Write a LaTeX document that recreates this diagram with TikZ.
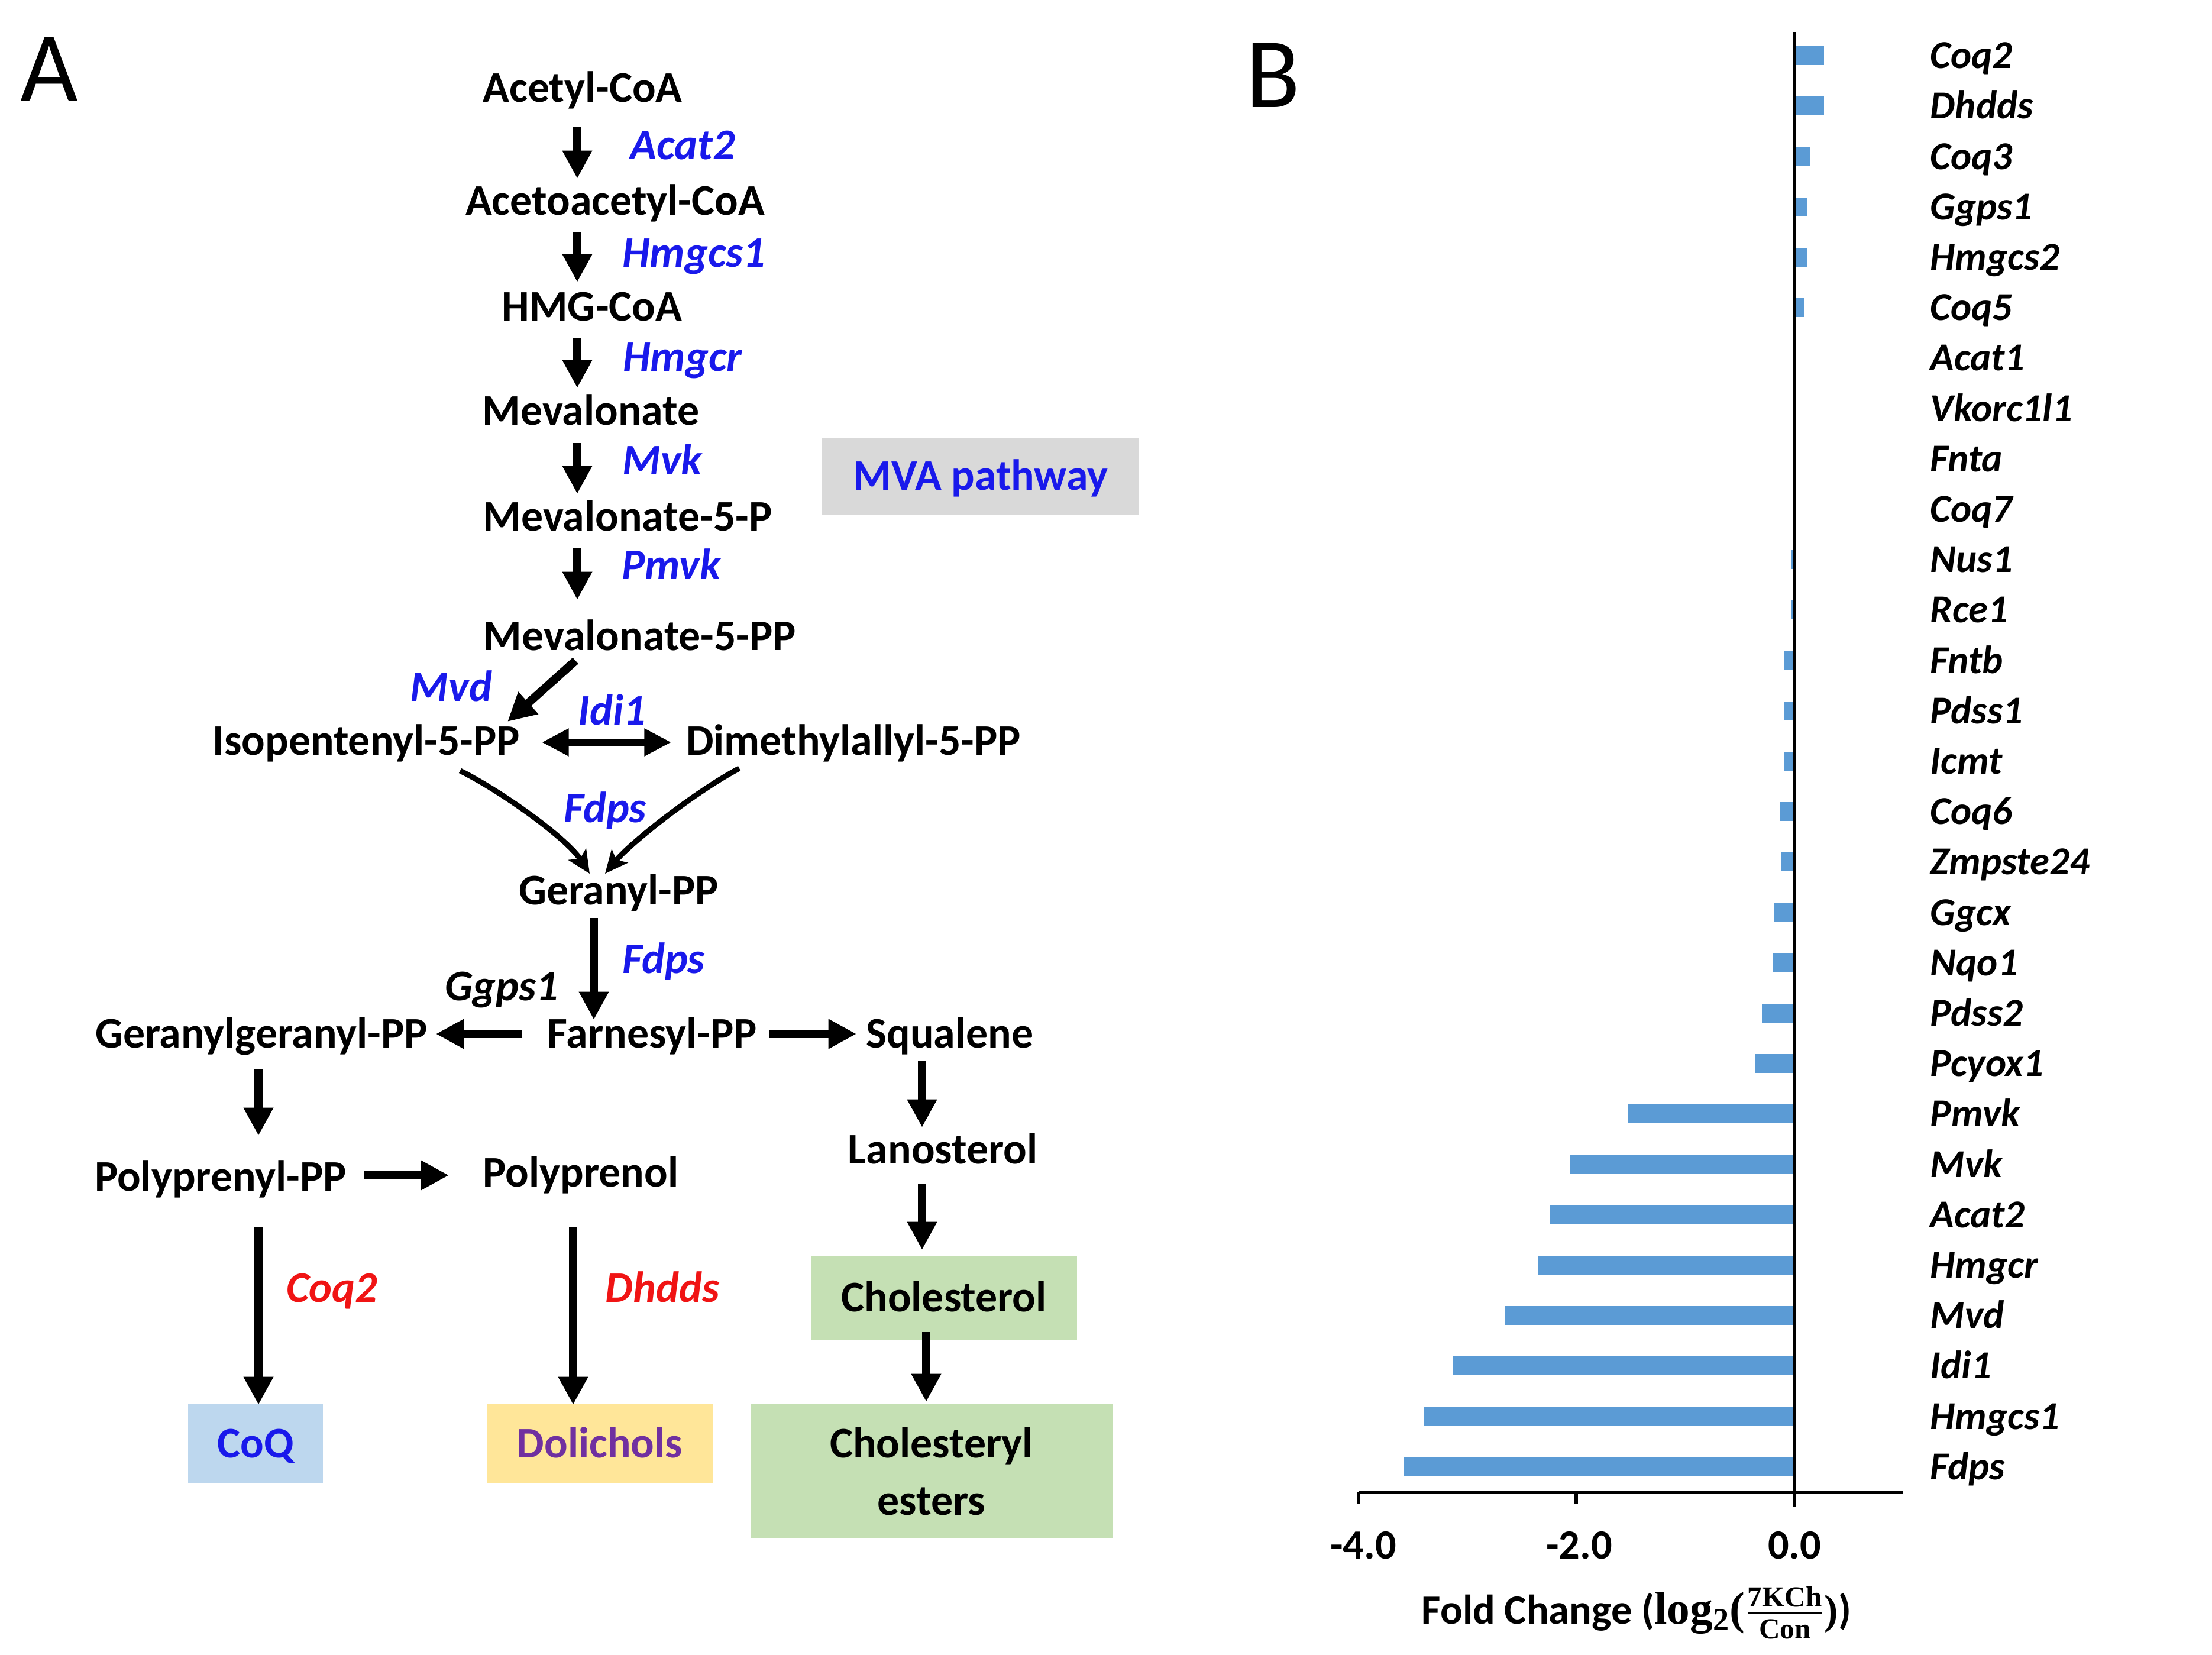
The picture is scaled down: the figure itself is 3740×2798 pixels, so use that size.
\documentclass[tikz,border=0pt]{standalone}
\usepackage{amsmath}
\usepackage{fontspec}
\setmainfont{Carlito}
\newfontfamily\serifB{Liberation Serif}
\usetikzlibrary{arrows.meta,calc}
\definecolor{gblue}{RGB}{25,25,235}
\definecolor{gred}{RGB}{240,20,20}
\definecolor{gpurple}{RGB}{112,48,160}
\definecolor{boxgray}{RGB}{217,217,217}
\definecolor{boxblue}{RGB}{189,215,238}
\definecolor{boxyellow}{RGB}{255,230,153}
\definecolor{boxgreen}{RGB}{197,224,180}
\definecolor{barblue}{RGB}{91,155,213}
\tikzset{
  met/.style={font=\fontsize{21}{25}\selectfont\bfseries, inner sep=0pt, text height=13.5pt, text depth=0pt},
  enz/.style={font=\fontsize{21}{25}\selectfont\bfseries\itshape, inner sep=0pt, text height=13.5pt, text depth=0pt, text=gblue},
  gene/.style={font=\fontsize{19}{24}\selectfont\bfseries\itshape, inner sep=0pt, text height=12.3pt, text depth=0pt, anchor=west},
  panel/.style={font=\fontsize{48}{56}\selectfont, inner sep=0pt, text height=30.9pt, text depth=0pt},
  blk/.style={line width=4pt, -{Triangle[length=13.5pt,width=13.5pt]}},
  dbl/.style={line width=3.4pt, {Triangle[length=13pt,width=12.5pt]}-{Triangle[length=13pt,width=12.5pt]}},
  crv/.style={line width=2.6pt, -{Stealth[length=11pt,width=10pt,inset=2.5pt]}},
  tick/.style={font=\fontsize{20}{24}\selectfont\bfseries, inner sep=0pt, text height=12.9pt, text depth=0pt},
  axisline/.style={line width=1.6pt, black}
}
\begin{document}
\begin{tikzpicture}[x=0.01cm, y=-0.01cm]
\fill[white] (0,0) rectangle (3740,2798);
\useasboundingbox (0,0) rectangle (3740,2798);

% ---------- Panel A ----------
\node[panel] (labA) at (83,117) {A};

\node[met] (acetyl) at (985,149) {Acetyl-CoA};
\node[met] (acac) at (1040,340) {Acetoacetyl-CoA};
\node[met] (hmg) at (1001,519) {HMG-CoA};
\node[met] (mev) at (999,695) {Mevalonate};
\node[met] (mev5p) at (1061,874) {Mevalonate-5-P};
\node[met] (mev5pp) at (1082,1076) {Mevalonate-5-PP};
\node[met] (ipp) at (619,1253) {Isopentenyl-5-PP};
\node[met] (dmapp) at (1443,1253) {Dimethylallyl-5-PP};
\node[met] (gpp) at (1046,1506) {Geranyl-PP};
\node[met] (fpp) at (1103,1748) {Farnesyl-PP};
\node[met] (ggpp) at (442,1748) {Geranylgeranyl-PP};
\node[met] (squal) at (1606,1748) {Squalene};
\node[met] (polypp) at (373,1990) {Polyprenyl-PP};
\node[met] (polyol) at (982,1983) {Polyprenol};
\node[met] (lano) at (1594,1944) {Lanosterol};

\node[met, fill=boxgray, text=gblue, minimum width=5.36cm, minimum height=1.3cm] (mva) at (1658,805) {MVA pathway};
\node[met, fill=boxgreen, minimum width=4.5cm, minimum height=1.42cm] (chol) at (1596,2194) {Cholesterol};
\node[met, fill=boxblue, text=gblue, minimum width=2.27cm, minimum height=1.34cm] (coq) at (432,2441) {CoQ};
\node[met, fill=boxyellow, text=gpurple, minimum width=3.82cm, minimum height=1.34cm] (dol) at (1014,2441) {Dolichols};
\node[font=\fontsize{21}{27.6}\selectfont\bfseries, fill=boxgreen, align=center, inner sep=0pt, minimum width=6.12cm, minimum height=2.26cm] (ester) at (1575,2487) {Cholesteryl\\esters};

% enzyme labels
\node[enz] (eAcat2) at (1154,246) {Acat2};
\node[enz] (eHmgcs1) at (1173,428) {Hmgcs1};
\node[enz] (eHmgcr) at (1154,604) {Hmgcr};
\node[enz] (eMvk) at (1120,779) {Mvk};
\node[enz] (ePmvk) at (1135,956) {Pmvk};
\node[enz] (eMvd) at (763,1162) {Mvd};
\node[enz] (eIdi1) at (1035,1202) {Idi1};
\node[enz] (eFdps1) at (1023,1367) {Fdps};
\node[enz] (eFdps2) at (1122,1622) {Fdps};
\node[enz, text=black] (eGgps1) at (848,1668) {Ggps1};
\node[enz, text=gred] (eCoq2) at (561,2178) {Coq2};
\node[enz, text=gred] (eDhdds) at (1120,2178) {Dhdds};

% arrows
\draw[blk] ($(acetyl)+(-9,65)$) -- ($(acac)+(-64,-38)$);
\draw[blk] ($(acac)+(-64,53)$) -- ($(hmg)+(-25,-42)$);
\draw[blk] ($(hmg)+(-25,53)$) -- ($(mev)+(-23,-39)$);
\draw[blk] ($(mev)+(-23,54)$) -- ($(mev5p)+(-85,-39)$);
\draw[blk] ($(mev5p)+(-85,52)$) -- ($(mev5pp)+(-106,-62)$);
\draw[blk] ($(mev5pp)+(-109,41)$) -- ($(ipp)+(239,-33)$);
\draw[dbl] ($(ipp)+(297,2)$) -- ($(dmapp)+(-308,2)$);
\draw[crv] ($(ipp)+(159,50)$) .. controls (850,1339) and (959,1418) .. ($(gpp)+(-49,-29)$);
\draw[crv] ($(dmapp)+(-193,46)$) .. controls (1178,1337) and (1068,1423) .. ($(gpp)+(-23,-29)$);
\draw[blk] ($(gpp)+(-42,46)$) -- ($(fpp)+(-99,-24)$);
\draw[blk] ($(fpp)+(-220,0)$) -- ($(ggpp)+(295,0)$);
\draw[blk] ($(fpp)+(198,0)$) -- ($(squal)+(-158,0)$);
\draw[blk] ($(ggpp)+(-5,60)$) -- ($(polypp)+(64,-70)$);
\draw[blk] ($(polypp)+(242,-3)$) -- ($(polyol)+(-223,4)$);
\draw[blk] ($(squal)+(-47,46)$) -- ($(lano)+(-35,-38)$);
\draw[blk] ($(lano)+(-35,57)$) -- ($(chol)+(-37,-81)$);
\draw[blk] ($(chol)+(-30,58)$) -- ($(ester)+(-9,-117)$);
\draw[blk] ($(polypp)+(64,85)$) -- ($(coq)+(5,-66)$);
\draw[blk] ($(polyol)+(-13,92)$) -- ($(dol)+(-45,-66)$);

% ---------- Panel B ----------
\node[panel] (labB) at (2152,127) {B};

\foreach \g/\v [count=\i from 0] in {Coq2/0.27, Dhdds/0.27, Coq3/0.14, Ggps1/0.12, Hmgcs2/0.12, Coq5/0.09, Acat1/0, Vkorc1l1/0, Fnta/0, Coq7/-0.01, Nus1/-0.03, Rce1/-0.03, Fntb/-0.09, Pdss1/-0.1, Icmt/-0.1, Coq6/-0.13, Zmpste24/-0.12, Ggcx/-0.19, Nqo1/-0.2, Pdss2/-0.3, Pcyox1/-0.36, Pmvk/-1.52, Mvk/-2.06, Acat2/-2.24, Hmgcr/-2.35, Mvd/-2.65, Idi1/-3.13, Hmgcs1/-3.39, Fdps/-3.575}{
  \pgfmathsetmacro\yy{94+85.2*\i}
  \fill[barblue] (3034,\yy-16) rectangle ({3034+184.6*\v},\yy+16);
  \node[gene] (g\i) at (3263,\yy) {\g};
}

\draw[axisline] (3034,54) -- (3034,2547);
\draw[axisline] (2297,2523) -- (3218,2523);
\draw[axisline] (2297,2523) -- (2297,2543);
\draw[axisline] (2665,2523) -- (2665,2543);

\node[tick] (t4) at (2305,2613) {-4.0};
\node[tick] (t2) at (2670,2613) {-2.0};
\node[tick] (t0) at (3034,2613) {0.0};
\node[font=\fontsize{20}{24}\selectfont\bfseries, inner sep=0pt] (xt) at (2767,2727) {Fold Change ({\serifB\bfseries\fontsize{22}{24}\selectfont log\textsubscript{2}(}$\frac{\text{\serifB\bfseries 7KCh}}{\text{\serifB\bfseries Con}}${\serifB\bfseries )})};
\end{tikzpicture}
\end{document}
